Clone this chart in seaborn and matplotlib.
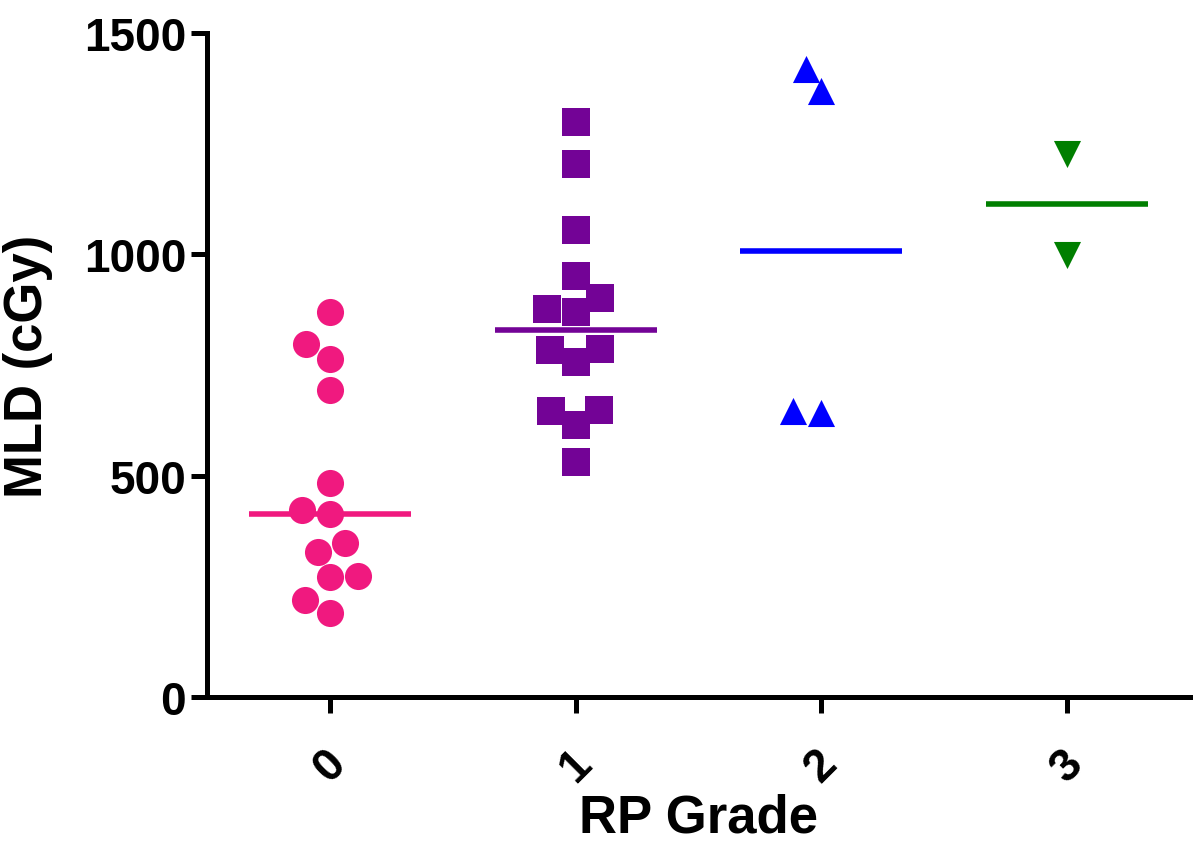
import pandas as pd
import matplotlib
matplotlib.use("Agg")
import matplotlib.pyplot as plt
import seaborn as sns

# values (MLD in cGy per RP grade)
grades = ["0", "1", "2", "3"]
grade0 = [870, 798, 764, 693, 484, 423, 413, 349, 327, 271, 274, 219, 190]
grade1 = [1300, 1205, 1056, 951, 902, 877, 869, 787, 785, 757, 648, 645, 614, 532]
grade2 = [1419, 1368, 641, 645]
grade3 = [1227, 999]
colors = ["#F0197F", "#730396", "#0000FF", "#007F00"]
markers = ["o", "s", "^", "v"]

sns.set_style("ticks")
plt.rcParams["font.family"] = ["Liberation Sans", "DejaVu Sans"]
plt.rcParams["font.weight"] = "bold"
for key in ["text.color", "axes.labelcolor", "xtick.color", "ytick.color", "axes.edgecolor"]:
    plt.rcParams[key] = "black"

rows = []
for g, vals in zip(grades, [grade0, grade1, grade2, grade3]):
    for v in vals:
        rows.append((g, v))
df = pd.DataFrame(rows, columns=["grade", "mld"])

fig, ax = plt.subplots(figsize=(12, 8.54), dpi=100)
fig.subplots_adjust(left=207 / 1200, right=1190 / 1200, top=1 - 34 / 854, bottom=1 - 698 / 854)

for g, c, m in zip(grades, colors, markers):
    sub = df[df["grade"] == g]
    sns.swarmplot(data=sub, x="grade", y="mld", order=grades, color=c,
                  marker=m, size=19.5, linewidth=0, ax=ax)
    # median line only
    sns.boxplot(data=sub, x="grade", y="mld", order=grades, width=0.66,
                showbox=False, showcaps=False, showfliers=False,
                whiskerprops={"visible": False},
                medianprops={"color": c, "linewidth": 4.0}, ax=ax)

ax.set_xlim(-0.5, 3.5)
ax.set_ylim(0, 1500)
ax.set_yticks([0, 500, 1000, 1500])
sns.despine(ax=ax)
for side in ["left", "bottom"]:
    ax.spines[side].set_linewidth(3.6)
    ax.spines[side].set_color("black")
ax.tick_params(width=3.6, length=11.5, direction="out", labelsize=33, colors="black")
ax.tick_params(axis="x", pad=20)
plt.setp(ax.get_xticklabels(), rotation=45, ha="center", fontweight="bold")
plt.setp(ax.get_yticklabels(), fontweight="bold")

ax.set_xlabel("RP Grade", fontsize=38, fontweight="bold", labelpad=2, color="black")
ax.set_ylabel("MLD (cGy)", fontsize=38, fontweight="bold", labelpad=22, color="black")

plt.savefig("out.png", dpi=100)
